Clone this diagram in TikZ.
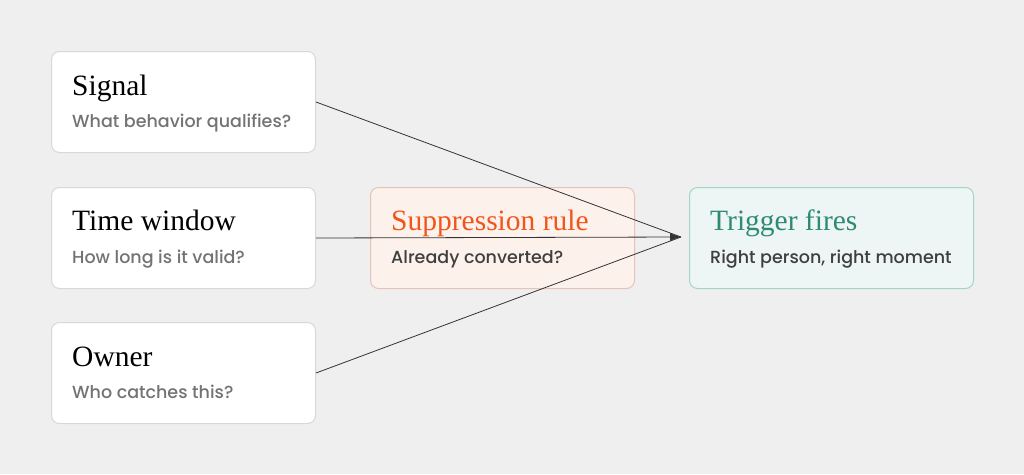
\documentclass[tikz,border=0pt]{standalone}
\usepackage{fontspec}
\setmainfont{Liberation Serif}
\newfontfamily\poppins{Poppins Medium}
\usetikzlibrary{arrows.meta}

\definecolor{bg}{HTML}{EFEFEF}
\definecolor{cardline}{HTML}{D8D8D8}
\definecolor{subgray}{HTML}{737373}
\definecolor{subdark}{HTML}{3F3F3F}
\definecolor{supfill}{HTML}{FDF1EC}
\definecolor{supline}{HTML}{E6C3B6}
\definecolor{suptext}{HTML}{F0561C}
\definecolor{trigfill}{HTML}{EDF6F4}
\definecolor{trigline}{HTML}{A2D6CA}
\definecolor{trigtext}{HTML}{2F8A73}
\definecolor{wire}{HTML}{333333}

\tikzset{
  card/.style={draw=cardline, fill=white, rounded corners=8pt, line width=1pt,
    minimum width=264pt, minimum height=101pt, inner sep=0pt, anchor=north west},
  title/.style={anchor=base west, inner sep=0pt, font=\fontsize{29.5}{31}\selectfont},
  sub/.style={anchor=base west, inner sep=0pt, text=subgray, font=\poppins\fontsize{17.5}{19}\selectfont},
  feed/.style={draw=wire, line width=0.8pt},
}

\begin{document}
\begin{tikzpicture}[x=1pt,y=-1pt]
    % Canvas
    \fill[bg] (0,0) rectangle (1024,474);
    \useasboundingbox (0,0) rectangle (1024,474);

    % Input cards
    \node[card] (signal) at (51,51) {};
    \node[card] (window) at (51,187) {};
    \node[card] (owner) at (51,322) {};

    % Suppression and trigger
    \node[card, fill=supfill, draw=supline] (suppress) at (370,187) {};
    \node[card, fill=trigfill, draw=trigline, minimum width=284pt] (trigger) at (689,187) {};

    % Labels
    \node[title] at (72,95) {Signal};
    \node[sub] at (72,127) {What behavior qualifies?};
    \node[title] at (72,230) {Time window};
    \node[sub] at (72,263) {How long is it valid?};
    \node[title] at (72,366) {Owner};
    \node[sub] at (72,398) {Who catches this?};
    \node[title, text=suptext] at (391,230) {Suppression rule};
    \node[sub, text=subdark] at (391,263) {Already converted?};
    \node[title, text=trigtext] at (710,230) {Trigger fires};
    \node[sub, text=subdark] at (710,263) {Right person, right moment};

    % Wires into the trigger
    \coordinate (hub) at (681,237);
    \draw[feed] (signal.east) -- (hub);
    \draw[feed] (owner.east) -- (hub);
    \draw[feed, -{Latex[length=11pt,width=8pt]}] (window.east) -- (hub);
\end{tikzpicture}
\end{document}
